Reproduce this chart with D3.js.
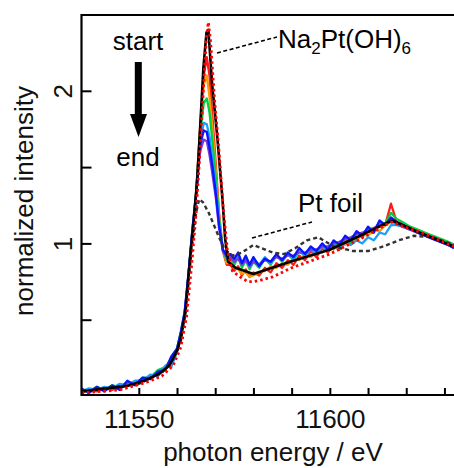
<!DOCTYPE html>
<html>
<head>
<meta charset="utf-8">
<script src="https://cdn.jsdelivr.net/npm/d3@7.9.0/dist/d3.min.js"></script>
<style>
  html, body { margin: 0; padding: 0; background: #fff; }
  svg { display: block; font-family: "Liberation Sans", Arial, sans-serif; }
</style>
</head>
<body>
<svg id="chart" width="454" height="468"></svg>
<script>
// shared energy grid for the in-situ spectra (eV)
const energy = [
  11535, 11537, 11539, 11541, 11543, 11545, 11547, 11549, 11551, 11553, 11555, 11557,
  11558.5, 11560, 11561, 11562, 11563, 11564, 11565, 11566, 11567, 11567.8, 11568.5, 11569.3, 11570.2, 11571, 11572, 11573,
  11574, 11575, 11576, 11577, 11578, 11579, 11580, 11581.5, 11583, 11584.5, 11586, 11587.5, 11589, 11590.5, 11592, 11593.5, 11595, 11596.5, 11598, 11599.5,
  11601, 11602.5, 11604, 11605.5, 11607, 11608.5, 11610, 11611.5, 11613, 11614.5, 11616, 11617.5, 11619, 11621, 11623, 11625, 11627, 11629, 11631, 11632.5
];

const redSeries = [
  0.02, 0.04, 0.03, 0.05, 0.04, 0.06, 0.07, 0.08, 0.10, 0.12, 0.14, 0.18, 0.22, 0.30, 0.40, 0.53, 0.79, 1.08,
  1.34, 1.74, 2.10, 2.22, 2.10, 1.82, 1.50, 1.20, 0.95, 0.86,
  0.86, 0.82, 0.85, 0.79, 0.83, 0.78, 0.81, 0.79, 0.84, 0.81, 0.87, 0.84, 0.89, 0.86, 0.92, 0.89, 0.95, 0.91, 0.97, 0.94,
  0.99, 0.96, 1.03, 1.00, 1.07, 1.04, 1.10, 1.08, 1.14, 1.12, 1.26, 1.14, 1.13, 1.10, 1.08, 1.06, 1.04, 1.02, 1.00, 0.98
];
const orangeSeries = [
  0.03, 0.03, 0.05, 0.04, 0.06, 0.06, 0.08, 0.09, 0.11, 0.13, 0.15, 0.19, 0.23, 0.31, 0.41, 0.54, 0.79, 1.08,
  1.33, 1.72, 2.04, 2.10, 1.96, 1.74, 1.46, 1.18, 0.96, 0.87,
  0.88, 0.84, 0.83, 0.80, 0.81, 0.78, 0.79, 0.81, 0.82, 0.85, 0.84, 0.87, 0.86, 0.90, 0.89, 0.93, 0.91, 0.95, 0.94, 0.97,
  0.96, 1.00, 0.99, 1.03, 1.02, 1.06, 1.05, 1.09, 1.08, 1.12, 1.14, 1.13, 1.12, 1.10, 1.08, 1.06, 1.04, 1.02, 1.00, 0.98
];
const greenSeries = [
  0.04, 0.03, 0.06, 0.04, 0.07, 0.06, 0.09, 0.08, 0.12, 0.12, 0.17, 0.19, 0.25, 0.31, 0.42, 0.55, 0.80, 1.08,
  1.33, 1.70, 1.92, 1.95, 1.86, 1.66, 1.42, 1.16, 0.96, 0.89,
  0.90, 0.86, 0.91, 0.84, 0.89, 0.83, 0.88, 0.84, 0.90, 0.86, 0.92, 0.88, 0.93, 0.89, 0.95, 0.92, 0.97, 0.94, 0.99, 0.96,
  1.01, 0.98, 1.04, 1.01, 1.07, 1.04, 1.10, 1.08, 1.14, 1.13, 1.20, 1.16, 1.14, 1.11, 1.09, 1.07, 1.05, 1.03, 1.01, 0.99
];
const cyanSeries = [
  0.03, 0.05, 0.04, 0.06, 0.05, 0.08, 0.07, 0.10, 0.10, 0.14, 0.13, 0.20, 0.19, 0.29, 0.39, 0.52, 0.78, 1.07,
  1.32, 1.66, 1.79, 1.78, 1.70, 1.54, 1.36, 1.14, 0.96, 0.90,
  0.92, 0.88, 0.93, 0.86, 0.91, 0.85, 0.90, 0.86, 0.91, 0.87, 0.92, 0.89, 0.93, 0.90, 0.95, 0.92, 0.96, 0.93, 0.98, 0.95,
  1.00, 0.96, 1.01, 0.99, 1.02, 1.00, 1.04, 1.02, 1.07, 1.06, 1.12, 1.12, 1.11, 1.09, 1.07, 1.05, 1.03, 1.01, 0.99, 0.97
];
const blueSeries = [
  0.05, 0.02, 0.06, 0.03, 0.07, 0.04, 0.10, 0.07, 0.12, 0.11, 0.16, 0.17, 0.26, 0.31, 0.42, 0.55, 0.80, 1.08,
  1.32, 1.64, 1.74, 1.73, 1.63, 1.50, 1.32, 1.12, 0.96, 0.92,
  0.93, 0.90, 0.94, 0.87, 0.92, 0.86, 0.91, 0.85, 0.90, 0.88, 0.93, 0.89, 0.94, 0.91, 0.97, 0.93, 0.98, 0.95, 1.00, 0.96,
  1.02, 0.99, 1.05, 1.02, 1.08, 1.05, 1.11, 1.07, 1.15, 1.12, 1.17, 1.14, 1.12, 1.10, 1.07, 1.05, 1.03, 1.01, 0.99, 0.97
];
const violetSeries = [
  0.04, 0.03, 0.05, 0.04, 0.06, 0.05, 0.08, 0.08, 0.11, 0.12, 0.15, 0.18, 0.24, 0.30, 0.41, 0.54, 0.79, 1.07,
  1.31, 1.60, 1.68, 1.67, 1.58, 1.45, 1.29, 1.10, 0.95, 0.91,
  0.91, 0.88, 0.90, 0.86, 0.89, 0.85, 0.88, 0.86, 0.89, 0.88, 0.91, 0.90, 0.92, 0.92, 0.94, 0.94, 0.96, 0.96, 0.98, 0.98,
  1.00, 1.01, 1.03, 1.04, 1.06, 1.07, 1.09, 1.10, 1.12, 1.13, 1.15, 1.13, 1.11, 1.09, 1.07, 1.05, 1.03, 1.01, 0.99, 0.97
];

// thick black spectrum
const blackEnergy = [11535, 11540, 11547, 11552, 11555.6, 11558, 11560.1, 11561, 11562.2, 11563.5, 11564.3, 11565.3, 11566.1, 11566.9, 11567.7, 11568.2, 11569.2, 11570.5, 11571.9, 11572.6, 11573.4, 11575.3, 11580, 11589.6, 11600.1, 11607.9, 11616.3, 11623.6, 11632.5];
const blackIntensity = [0.03, 0.045, 0.065, 0.105, 0.15, 0.2, 0.3, 0.38, 0.55, 0.92, 1.12, 1.42, 1.78, 2.15, 2.38, 2.40, 2.04, 1.71, 1.29, 1.03, 0.88, 0.84, 0.80, 0.88, 0.96, 1.05, 1.15, 1.07, 0.98];

// Na2Pt(OH)6 reference (red dotted)
const refEnergy = [11535, 11545, 11552, 11556, 11559, 11561, 11562.5, 11563.8, 11565, 11566, 11567, 11567.7, 11568.2, 11568.8, 11569.8, 11571, 11572.2, 11573.2, 11574.5, 11576.5, 11578.5, 11580, 11582, 11585, 11590, 11600, 11608, 11616, 11624, 11632.5];
const refIntensity = [0.02, 0.04, 0.09, 0.13, 0.2, 0.32, 0.52, 0.85, 1.2, 1.6, 2.05, 2.35, 2.45, 2.32, 1.95, 1.6, 1.2, 0.95, 0.82, 0.78, 0.75, 0.75, 0.76, 0.78, 0.84, 0.93, 1.03, 1.14, 1.07, 0.98];

// Pt foil reference (black dashed)
const foilEnergy = [11535, 11550, 11556, 11559, 11561, 11562.5, 11563.8, 11565, 11565.8, 11566.8, 11568.3, 11569.5, 11571, 11572.5, 11574.5, 11577, 11580, 11582, 11585, 11588, 11591, 11594, 11597, 11601, 11606, 11610, 11614, 11618, 11622, 11627, 11632.5];
const foilIntensity = [0.03, 0.08, 0.15, 0.24, 0.36, 0.6, 0.95, 1.2, 1.29, 1.27, 1.2, 1.13, 1.04, 0.96, 0.92, 0.94, 0.99, 0.97, 0.94, 0.93, 0.97, 1.02, 1.04, 0.98, 0.95, 0.95, 0.98, 1.02, 1.05, 1.04, 0.99];

const xTicks = [11550, 11560, 11570, 11580, 11590, 11600, 11610, 11620, 11630];
const xLabels = [11550, 11600];
const yTicks = [0.5, 1, 1.5, 2];
const yLabels = [1, 2];

const seriesList = [
  { values: redSeries, color: '#ff1a1a' },
  { values: orangeSeries, color: '#ff9a00' },
  { values: greenSeries, color: '#00d040' },
  { values: cyanSeries, color: '#1aa0ff' },
  { values: violetSeries, color: '#7a3cd6' },
  { values: blueSeries, color: '#0a14ff' }
];

const svg = d3.select('#chart');
const plotLeft = 81.5, plotTop = 15, plotBottom = 395, plotRight = 460;

const x = d3.scaleLinear().domain([11535, 11632.5]).range([81.5, 454]);
const y = d3.scaleLinear().domain([0, 2.5]).range([396, 14.5]);

svg.append('clipPath').attr('id', 'plotClip')
  .append('rect').attr('x', plotLeft).attr('y', plotTop)
  .attr('width', plotRight - plotLeft).attr('height', plotBottom - plotTop);

const plot = svg.append('g').attr('clip-path', 'url(#plotClip)');

const line = d3.line().x(d => x(d[0])).y(d => y(d[1]));

seriesList.forEach(s => {
  plot.append('path')
    .attr('d', line(energy.map((e, i) => [e, s.values[i]])))
    .attr('fill', 'none')
    .attr('stroke', s.color)
    .attr('stroke-width', 2.3)
    .attr('stroke-linejoin', 'round');
});

plot.append('path')
  .attr('d', line(foilEnergy.map((e, i) => [e, foilIntensity[i]])))
  .attr('fill', 'none')
  .attr('stroke', '#333')
  .attr('stroke-width', 2.4)
  .attr('stroke-dasharray', '4,3');

plot.append('path')
  .attr('d', line(blackEnergy.map((e, i) => [e, blackIntensity[i]])))
  .attr('fill', 'none')
  .attr('stroke', '#000')
  .attr('stroke-width', 2.6)
  .attr('stroke-linejoin', 'round');

plot.append('path')
  .attr('d', line(refEnergy.map((e, i) => [e, refIntensity[i]])))
  .attr('fill', 'none')
  .attr('stroke', '#ff0000')
  .attr('stroke-width', 2.8)
  .attr('stroke-dasharray', '2.5,3');

// axes
const xAxis = d3.axisBottom(x)
  .tickValues(xTicks)
  .tickSizeInner(-7)
  .tickSizeOuter(0)
  .tickFormat(d => xLabels.includes(d) ? d : '');

const gx = svg.append('g').attr('transform', `translate(0,${plotBottom})`).call(xAxis);
gx.select('.domain').remove();
gx.selectAll('line').attr('stroke', '#000').attr('stroke-width', 2);
gx.selectAll('text')
  .attr('font-size', 26)
  .attr('fill', '#111')
  .attr('font-family', '"Liberation Sans", Arial, sans-serif')
  .attr('y', 33).attr('dy', 0);

const yAxis = d3.axisLeft(y)
  .tickValues(yTicks)
  .tickSizeInner(-10)
  .tickSizeOuter(0)
  .tickFormat(d => yLabels.includes(d) ? d : '');

const gy = svg.append('g').attr('transform', `translate(${plotLeft},0)`).call(yAxis);
gy.select('.domain').remove();
gy.selectAll('line').attr('stroke', '#000').attr('stroke-width', 2);
gy.selectAll('text')
  .attr('x', 0).attr('y', 0).attr('dy', 0)
  .attr('transform', 'translate(-9.5,0) rotate(-90)')
  .attr('text-anchor', 'middle')
  .attr('font-size', 26)
  .attr('fill', '#111')
  .attr('font-family', '"Liberation Sans", Arial, sans-serif');

// frame (right side runs off the picture)
svg.append('path')
  .attr('d', `M${plotRight},${plotTop}H${plotLeft}V${plotBottom}H${plotRight}`)
  .attr('fill', 'none')
  .attr('stroke', '#000')
  .attr('stroke-width', 2.2);

// axis titles
svg.append('text')
  .attr('x', 273).attr('y', 461)
  .attr('text-anchor', 'middle')
  .attr('font-size', 26)
  .attr('fill', '#111')
  .text('photon energy / eV');

svg.append('text')
  .attr('transform', 'translate(33,201) rotate(-90)')
  .attr('text-anchor', 'middle')
  .attr('font-size', 26)
  .attr('fill', '#111')
  .text('normalized intensity');

// start / end arrow
svg.append('text').attr('x', 138).attr('y', 50).attr('text-anchor', 'middle')
  .attr('font-size', 26).attr('fill', '#000').text('start');
svg.append('text').attr('x', 138).attr('y', 166).attr('text-anchor', 'middle')
  .attr('font-size', 26).attr('fill', '#000').text('end');
svg.append('rect').attr('x', 134.8).attr('y', 62).attr('width', 7).attr('height', 54).attr('fill', '#000');
svg.append('path').attr('d', 'M130,114 L147,114 L138.5,137 Z').attr('fill', '#000');

// annotations
const na = svg.append('text').attr('x', 278).attr('y', 48).attr('font-size', 26).attr('fill', '#000');
na.append('tspan').text('Na');
na.append('tspan').attr('font-size', 17).attr('dy', 6).text('2');
na.append('tspan').attr('dy', -6).text('Pt(OH)');
na.append('tspan').attr('font-size', 17).attr('dy', 6).text('6');

svg.append('line').attr('x1', 217).attr('y1', 53).attr('x2', 277).attr('y2', 37)
  .attr('stroke', '#000').attr('stroke-width', 1.6).attr('stroke-dasharray', '4,2.5');

svg.append('text').attr('x', 298).attr('y', 212).attr('font-size', 26).attr('fill', '#000').text('Pt foil');
svg.append('line').attr('x1', 252).attr('y1', 238).attr('x2', 312).attr('y2', 222)
  .attr('stroke', '#000').attr('stroke-width', 1.6).attr('stroke-dasharray', '4,2.5');
</script>
</body>
</html>
